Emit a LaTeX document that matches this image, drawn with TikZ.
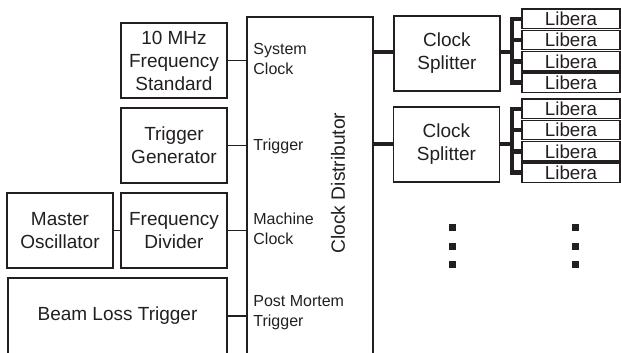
\documentclass[tikz,border=0pt]{standalone}
\usepackage{fontspec}
\setmainfont{Liberation Sans}
\usetikzlibrary{positioning}
\definecolor{inkblack}{HTML}{231F20}

\begin{document}
\begin{tikzpicture}[
      x=0.5pt, y=-0.5pt,
      block/.style={draw=inkblack, line width=0.65pt, inner sep=0pt, align=center, text=inkblack, font=\fontsize{9.5}{11.5}\selectfont},
      unit/.style={block, minimum width=53pt, minimum height=37.5pt},
      port/.style={anchor=west, align=left, inner sep=0pt, text=inkblack, font=\fontsize{8}{10}\selectfont},
      libera/.style={block, minimum width=49pt, minimum height=9.75pt, font=\fontsize{9.4}{10}\selectfont},
      link/.style={draw=inkblack, line width=0.65pt},
      bus/.style={draw=inkblack, line width=2.2pt},
      dot/.style={fill=inkblack, inner sep=0pt, minimum size=3.5pt}
    ]
      \useasboundingbox (0,0) rectangle (621,353);

      % sources
      \node[unit] (tenmhz) at (174,60.5) {10 MHz\\Frequency\\Standard};
      \node[unit] (trigen) at (174,145.5) {Trigger\\Generator};
      \node[unit] (freqdiv) at (174,230.5) {Frequency\\Divider};
      \node[unit] (master) at (60,230.5) {Master\\Oscillator};
      \node[block, minimum width=109.5pt, minimum height=38pt] (beamloss) at (117.5,316) {Beam Loss Trigger};

      % distributor
      \node[block, minimum width=63pt, minimum height=168.5pt] (dist) at (310,185.5) {};
      \node[rotate=90, inner sep=0pt, text=inkblack, font=\fontsize{9.6}{11.5}\selectfont] (distlabel) at (338,183) {Clock Distributor};
      \node[port] (sysclk) at (253,59) {System\\Clock};
      \node[port] (trigin) at (253,146) {Trigger};
      \node[port] (machclk) at (253,229) {Machine\\Clock};
      \node[port] (pmtrig) at (253,313) {Post Mortem\\Trigger};

      % splitters
      \node[unit] (split1) at (447,53.5) {Clock\\Splitter};
      \node[unit] (split2) at (446.5,144.5) {Clock\\Splitter};

      \foreach \row in {1,...,4} {
        \node[libera] (liba\row) at (571,{18.75+21.3*(\row-1)}) {Libera};
        \node[libera] (libb\row) at (571,{108.75+21.3*(\row-1)}) {Libera};
      }
      \coordinate (busa) at (512,52);
      \coordinate (busb) at (512,144);

      \foreach \row in {1,2,3} {
        \node[dot] (dotl\row) at (452.5,{227.5+18.5*(\row-1)}) {};
        \node[dot] (dotr\row) at (575.5,{227.5+18.5*(\row-1)}) {};
      }

      \draw[link] (tenmhz.east) -- (tenmhz.east -| dist.west);
      \draw[link] (trigen.east) -- (trigen.east -| dist.west);
      \draw[link] (freqdiv.east) -- (freqdiv.east -| dist.west);
      \draw[link] (beamloss.east) -- (beamloss.east -| dist.west);
      \draw[link] (master) -- (freqdiv);

      \draw[bus] (dist.east |- busa) -- (split1.west |- busa);
      \draw[bus] (dist.east |- busb) -- (split2.west |- busb);
      \draw[bus] (split1.east |- busa) -- (busa);
      \draw[bus] (split2.east |- busb) -- (busb);
      \draw[bus] (liba1.west) -| (busa) |- (liba4.west);
      \draw[bus] (libb1.west) -| (busb) |- (libb4.west);
      \draw[bus] (liba2.west) -- (liba2.west -| busa);
      \draw[bus] (liba3.west) -- (liba3.west -| busa);
      \draw[bus] (libb2.west) -- (libb2.west -| busb);
      \draw[bus] (libb3.west) -- (libb3.west -| busb);
    \end{tikzpicture}
\end{document}
